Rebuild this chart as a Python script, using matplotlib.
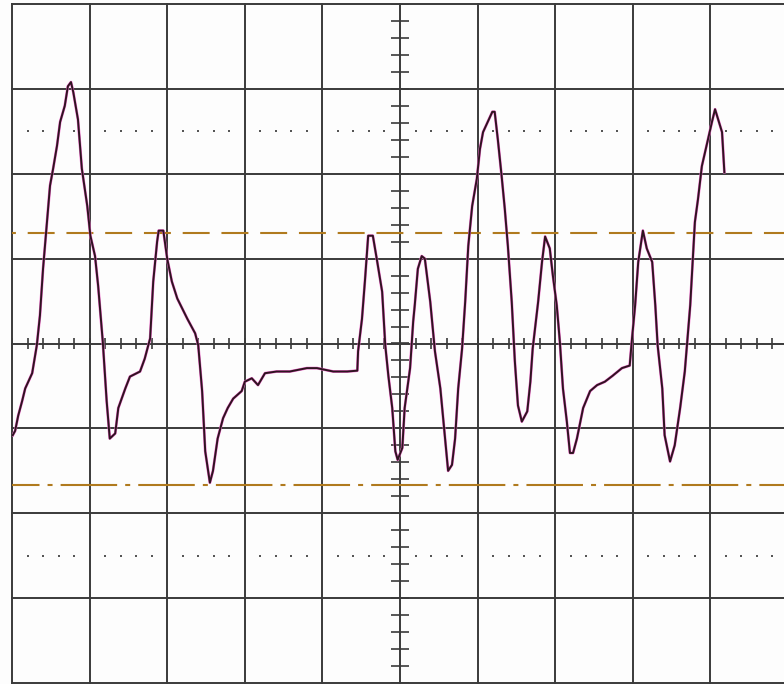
import matplotlib
matplotlib.use('Agg')
import matplotlib.pyplot as plt
import numpy as np

plt.rcParams['lines.scale_dashes'] = False

# trace, in divisions (x from left edge, y from centre line)
trace_x = [0.01, 0.04, 0.08, 0.13, 0.17, 0.26, 0.32, 0.36, 0.40, 0.45,
           0.49, 0.53, 0.58, 0.62, 0.68, 0.72, 0.76, 0.79, 0.85, 0.90,
           0.97, 1.01, 1.07, 1.11, 1.17, 1.22, 1.26, 1.33, 1.37, 1.46,
           1.52, 1.65, 1.71, 1.78, 1.82, 1.87, 1.89, 1.95, 2.00, 2.06,
           2.13, 2.26, 2.36, 2.40, 2.45, 2.49, 2.55, 2.59, 2.65, 2.72,
           2.78, 2.85, 2.96, 3.00, 3.09, 3.17, 3.26, 3.41, 3.58, 3.80,
           3.93, 4.14, 4.32, 4.45, 4.46, 4.51, 4.55, 4.59, 4.65, 4.70,
           4.77, 4.81, 4.85, 4.90, 4.94, 4.97, 5.03, 5.06, 5.13, 5.17,
           5.19, 5.23, 5.28, 5.32, 5.39, 5.45, 5.52, 5.58, 5.62, 5.67,
           5.71, 5.75, 5.80, 5.84, 5.88, 5.93, 5.99, 6.03, 6.07, 6.13,
           6.19, 6.22, 6.26, 6.31, 6.35, 6.39, 6.44, 6.48, 6.52, 6.57,
           6.64, 6.68, 6.71, 6.78, 6.83, 6.87, 6.93, 6.97, 7.02, 7.06,
           7.10, 7.15, 7.19, 7.23, 7.28, 7.36, 7.45, 7.54, 7.64, 7.74,
           7.86, 7.96, 7.99, 8.03, 8.07, 8.12, 8.13, 8.18, 8.25, 8.29,
           8.32, 8.38, 8.41, 8.48, 8.54, 8.61, 8.67, 8.74, 8.80, 8.84,
           8.89, 8.96, 9.02, 9.06, 9.10, 9.15, 9.16, 9.18]
trace_y = [-1.08, -1.03, -0.85, -0.68, -0.53, -0.35, -0.02, 0.33, 0.88, 1.43,
           1.86, 2.06, 2.33, 2.61, 2.80, 3.03, 3.08, 2.96, 2.64, 2.06,
           1.62, 1.27, 1.03, 0.68, 0.02, -0.68, -1.12, -1.06, -0.76, -0.53,
           -0.39, -0.33, -0.18, 0.06, 0.73, 1.20, 1.33, 1.33, 1.00, 0.73,
           0.53, 0.29, 0.12, -0.02, -0.56, -1.27, -1.64, -1.50, -1.12, -0.88,
           -0.76, -0.65, -0.56, -0.45, -0.41, -0.49, -0.35, -0.33, -0.33, -0.29,
           -0.29, -0.33, -0.33, -0.32, -0.09, 0.29, 0.76, 1.27, 1.27, 1.00,
           0.61, -0.02, -0.38, -0.76, -1.27, -1.37, -1.23, -0.76, -0.29, 0.26,
           0.45, 0.88, 1.03, 1.00, 0.49, -0.09, -0.53, -1.12, -1.50, -1.43,
           -1.12, -0.53, -0.06, 0.49, 1.15, 1.62, 1.94, 2.29, 2.49, 2.61,
           2.73, 2.73, 2.41, 1.97, 1.59, 1.15, 0.49, -0.21, -0.73, -0.92,
           -0.80, -0.45, -0.06, 0.49, 0.96, 1.26, 1.12, 0.80, 0.45, 0.02,
           -0.53, -0.92, -1.29, -1.29, -1.12, -0.76, -0.56, -0.49, -0.45, -0.38,
           -0.29, -0.26, 0.06, 0.45, 0.96, 1.27, 1.33, 1.12, 0.96, 0.45,
           -0.02, -0.53, -1.08, -1.39, -1.20, -0.76, -0.33, 0.45, 1.43, 1.70,
           2.09, 2.37, 2.61, 2.76, 2.64, 2.49, 2.33, 2.02]

# cursor levels (divisions)
cursor_dashed = 1.30
cursor_dashdot = -1.67

grid_color = '#3a3a3a'
cursor_color = '#b07a1e'

fig = plt.figure(figsize=(7.84, 6.84), dpi=100)
fig.patch.set_facecolor('#fdfdfd')
ax = fig.add_axes([12 / 784, 1 / 684, 776 / 784, 679 / 684])
ax.set_xlim(0, 10)
ax.set_ylim(-4, 4)
ax.axis('off')

# graticule
for gx in range(11):
    ax.axvline(gx, color=grid_color, lw=1.4, clip_on=False, zorder=1)
for gy in range(-4, 5):
    ax.axhline(gy, color=grid_color, lw=1.4, clip_on=False, zorder=1)

# minor ticks on the centre lines
tx = np.arange(0, 10.001, 0.2)
ax.vlines(tx, -0.07, 0.07, color=grid_color, lw=1.2, zorder=1)
ty = np.arange(-4, 4.001, 0.2)
ax.hlines(ty, 5 - 0.11, 5 + 0.11, color=grid_color, lw=1.2, zorder=1)

# dotted rows at +-2.5 div
dots = [k + f for k in range(10) for f in (0.2, 0.4, 0.6, 0.8)]
for lvl in (2.5, -2.5):
    ax.plot(dots, [lvl] * len(dots), ls='none', marker='s', ms=1.5,
            mew=0, color='#555555', zorder=1)

# cursors
ax.axhline(cursor_dashed, color=cursor_color, lw=1.5,
           linestyle=(16.6, (19.4, 8.5)), zorder=2)
ax.axhline(cursor_dashdot, color=cursor_color, lw=1.5,
           linestyle=(20.9, (40.7, 5.8, 3.6, 5.8)), zorder=2)

# trace: pink halo under dark line
ax.plot(trace_x, trace_y, color='#f06ccc', lw=2.0, zorder=3)
ax.plot(trace_x, trace_y, color='#2e1420', lw=1.4, zorder=4)

fig.savefig('out.png', dpi=100, facecolor=fig.get_facecolor())
